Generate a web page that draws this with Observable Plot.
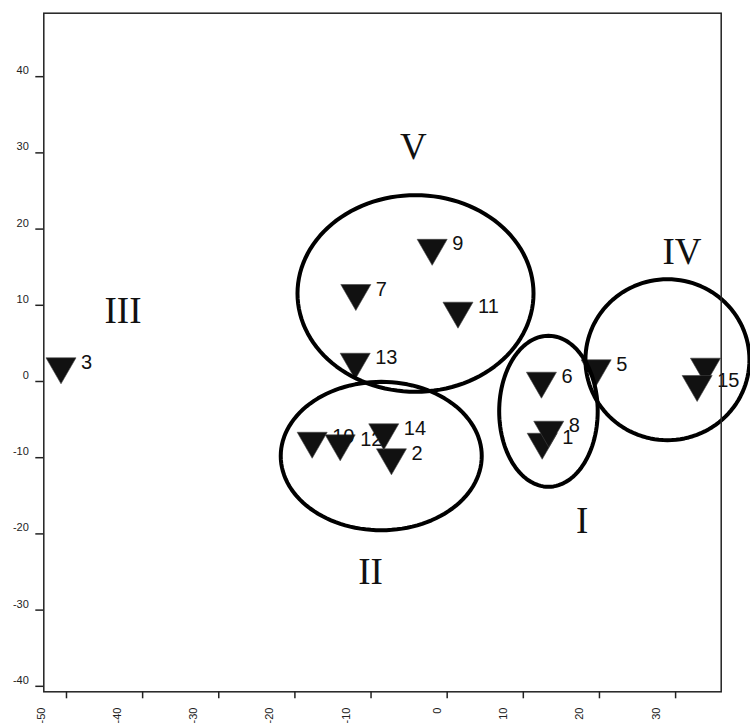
<!DOCTYPE html>
<html>
<head>
<meta charset="utf-8">
<script src="https://cdn.jsdelivr.net/npm/d3@7"></script>
<script src="https://cdn.jsdelivr.net/npm/@observablehq/plot@0.6"></script>
<style>
  html, body { margin: 0; padding: 0; background: #fff; }
  #chart svg { display: block; overflow: visible; }
</style>
</head>
<body>
<div id="chart"></div>
<script>
// ---- data ----
const pointIds = [1, 2, 3, 4, 5, 6, 7, 8, 9, 10, 11, 12, 13, 14, 15];
const pointX   = [12.48, -7.32, -50.72, 33.92, 19.57, 12.38, -12.0, 13.34, -1.97, -17.73, 1.42, -14.05, -12.08, -8.33, 32.83];
const pointY   = [-7.93, -9.97, 1.97, 1.92, 1.71, 0.08, 11.59, -6.35, 17.52, -7.80, 9.27, -8.14, 2.57, -6.69, -0.35];

const groupNames = ["I", "II", "III", "IV", "V"];
const groupLabelX = [17.73, -10.07, -42.58, 30.84, -4.43];
const groupLabelY = [-18.27, -25.04, 9.29, 16.96, 30.73];

// ellipses drawn round groups I, II, IV, V
const ellipseNames = ["I", "II", "IV", "V"];
const ellipseCx = [13.3, -8.66, 28.93, -4.16];
const ellipseCy = [-3.91, -9.78, 2.86, 11.55];
const ellipseRx = [6.47, 13.2, 10.77, 15.5];
const ellipseRy = [9.91, 9.74, 10.56, 12.9];

const xTicks = [-50, -40, -30, -20, -10, 0, 10, 20, 30];
const yTicks = [-40, -30, -20, -10, 0, 10, 20, 30, 40];

// ---- build tables ----
const points = pointIds.map((id, i) => ({id, x: pointX[i], y: pointY[i]}));
const groups = groupNames.map((g, i) => ({g, x: groupLabelX[i], y: groupLabelY[i]}));
const ellipsePts = [];
ellipseNames.forEach((name, k) => {
  const n = 120;
  for (let i = 0; i < n; i++) {
    const t = (i / n) * 2 * Math.PI;
    ellipsePts.push({name, x: ellipseCx[k] + ellipseRx[k] * Math.cos(t), y: ellipseCy[k] + ellipseRy[k] * Math.sin(t)});
  }
});

const W = 750, H = 728;
const mL = 43.3, mR = 29.3, mT = 12.7, mB = 36.7;
const xDomain = [-52.98, 35.99];
const yDomain = [-40.72, 48.33];
const pxPerX = (W - mL - mR) / (xDomain[1] - xDomain[0]);

// downward triangle symbol
const triDown = {
  draw(ctx, size) {
    const y = Math.sqrt(size / (3 * Math.sqrt(3)));
    const s = Math.sqrt(3) * y;
    ctx.moveTo(0, 2 * y);
    ctx.lineTo(-s, -y);
    ctx.lineTo(s, -y);
    ctx.closePath();
  }
};

const LABEL_DX = 20;
// labels whose anchor falls outside the frame are not drawn (as in the original)
const labelled = points.filter(p => p.x + LABEL_DX / pxPerX < xDomain[1]);

const xLabelOffset = t => t < 0 ? -25 : (t === 0 ? -9.5 : -19.5);
const xLabelMarks = [-25, -9.5, -19.5].map(dx =>
  Plot.text(xTicks.filter(t => xLabelOffset(t) === dx), {
    x: d => d, frameAnchor: "bottom", dy: 15.7, dx,
    rotate: -90, textAnchor: "end", lineAnchor: "middle",
    text: d => String(d), fontSize: 11, fill: "#222",
    fontFamily: "Liberation Sans, Arial, sans-serif"
  })
);

const chart = Plot.plot({
  width: W, height: H,
  marginLeft: mL, marginRight: mR, marginTop: mT, marginBottom: mB,
  style: {background: "#fff", fontFamily: "Liberation Sans, Arial, sans-serif"},
  x: {domain: xDomain},
  y: {domain: yDomain},
  marks: [
    Plot.axisX(xTicks, {tickSize: 7, tickFormat: () => "", stroke: "#222", strokeWidth: 1.5, label: null}),
    Plot.axisY(yTicks, {tickSize: 8, tickFormat: () => "", stroke: "#222", strokeWidth: 1.5, label: null}),
    Plot.text(yTicks, {
      y: d => d, frameAnchor: "left", dx: -15, dy: -6,
      textAnchor: "end", lineAnchor: "middle",
      text: d => String(d), fontSize: 11, fill: "#222"
    }),
    ...xLabelMarks,
    Plot.dot(points, {x: "x", y: "y", symbol: triDown, r: 11.15, fill: "#111", stroke: "#444", strokeWidth: 0.6}),
    Plot.text(labelled, {
      x: "x", y: "y", text: d => String(d.id), dx: LABEL_DX, dy: -4,
      textAnchor: "start", lineAnchor: "middle", fontSize: 20, fill: "#111"
    }),
    Plot.text(groups, {
      x: "x", y: "y", text: "g", textAnchor: "middle", lineAnchor: "middle",
      fontSize: 37, fill: "#111", fontFamily: "Liberation Serif, Times New Roman, serif"
    }),
    Plot.line(ellipsePts, {x: "x", y: "y", z: "name", curve: "linear-closed", stroke: "#000", strokeWidth: 4}),
    Plot.frame({stroke: "#222", strokeWidth: 1.5})
  ]
});
document.getElementById("chart").appendChild(chart);
</script>
</body>
</html>
